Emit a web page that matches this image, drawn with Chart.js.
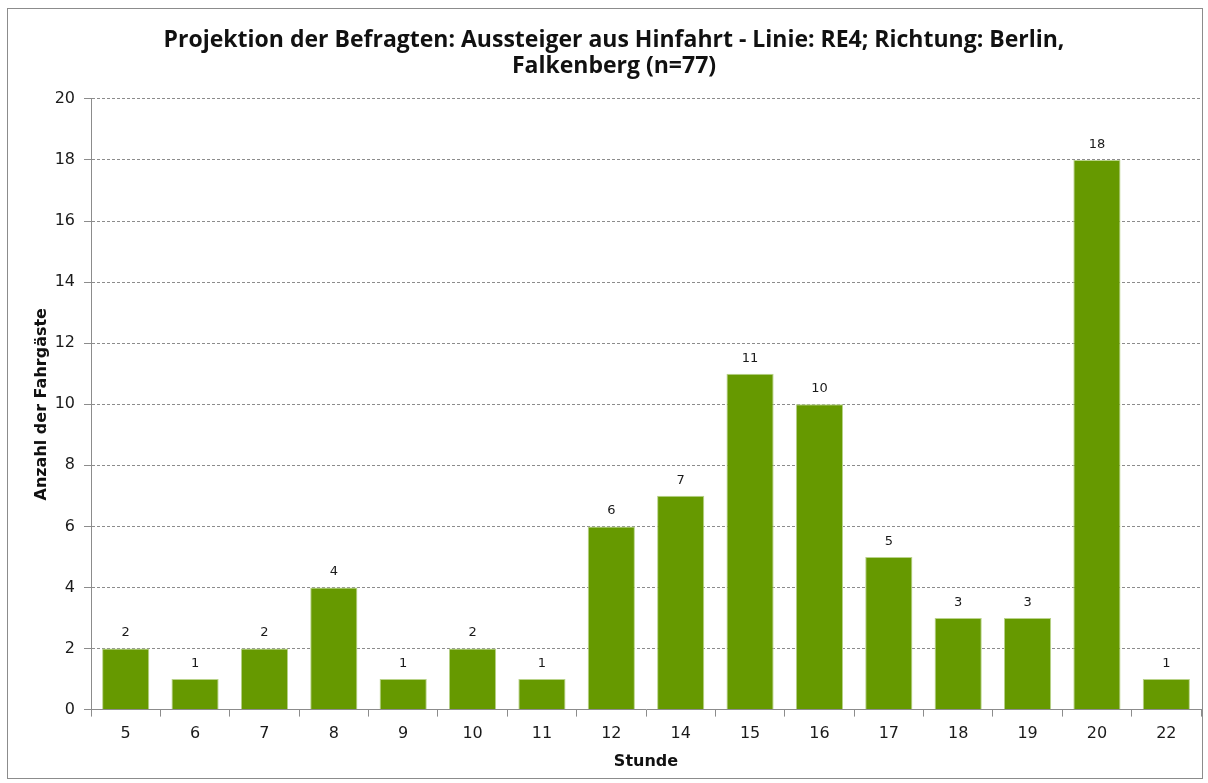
<!DOCTYPE html>
<html>
<head>
<meta charset="utf-8">
<script src="https://cdn.jsdelivr.net/npm/chart.js@4/dist/chart.umd.min.js"></script>
<style>
html,body{margin:0;padding:0;background:#fff;}
#wrap{position:absolute;left:0;top:0;width:1208px;height:783px;}
#frame{position:absolute;left:7px;top:8px;width:1196px;height:771px;border:1px solid #8c8c8c;box-sizing:border-box;pointer-events:none;}
</style>
</head>
<body>
<div id="wrap"><canvas id="c" width="1208" height="783"></canvas></div>
<div id="frame"></div>
<script>
const categories = ['5','6','7','8','9','10','11','12','14','15','16','17','18','19','20','22'];
const values = [2,1,2,4,1,2,1,6,7,11,10,5,3,3,18,1];
const yTicks = [0,2,4,6,8,10,12,14,16,18,20];
const titleLines = ['Projektion der Befragten: Aussteiger aus Hinfahrt - Linie: RE4; Richtung: Berlin,', 'Falkenberg (n=77)'];
const yTitle = 'Anzahl der Fahrgäste';
const xTitle = 'Stunde';

const valueLabels = {
  id: 'valueLabels',
  afterDatasetsDraw(chart) {
    const ctx = chart.ctx;
    const meta = chart.getDatasetMeta(0);
    ctx.save();
    ctx.font = '13px "DejaVu Sans"';
    ctx.fillStyle = '#1a1a1a';
    ctx.textAlign = 'center';
    ctx.textBaseline = 'bottom';
    meta.data.forEach((bar, i) => {
      ctx.fillText(String(chart.data.datasets[0].data[i]), bar.x, bar.y - 9);
    });
    ctx.restore();
  }
};

new Chart(document.getElementById('c'), {
  type: 'bar',
  data: {
    labels: categories,
    datasets: [{
      data: values,
      backgroundColor: '#669900',
      borderColor: '#b9d38a',
      borderWidth: 1,
      barPercentage: 0.68,
      categoryPercentage: 1.0
    }]
  },
  options: {
    responsive: false,
    animation: false,
    layout: { padding: { left: 27, right: 7, top: 12, bottom: 8 } },
    plugins: {
      legend: { display: false },
      tooltip: { enabled: false },
      title: {
        display: true,
        text: titleLines,
        font: { family: '"Open Sans"', size: 23, weight: 'bold', lineHeight: 1.15 },
        color: '#111',
        padding: { top: 15, bottom: 19 }
      }
    },
    scales: {
      x: {
        grid: { display: true, drawOnChartArea: false, drawTicks: true, offset: true, tickLength: 7, color: '#8c8c8c' },
        border: { display: true, color: '#8c8c8c', width: 1 },
        ticks: { font: { family: '"DejaVu Sans"', size: 16 }, color: '#1a1a1a', padding: 8 },
        title: { display: true, text: xTitle, font: { family: '"DejaVu Sans"', size: 16, weight: 'bold' }, color: '#111', padding: { top: 0, bottom: 4 } }
      },
      y: {
        min: 0, max: 20,
        afterBuildTicks(scale) { scale.ticks = yTicks.map(v => ({ value: v })); },
        afterFit(scale) { scale.width = 64; },
        grid: { color: '#8c8c8c', tickLength: 7, tickColor: '#8c8c8c' },
        border: { display: true, color: '#8c8c8c', width: 1, dash: [3, 2] },
        ticks: { font: { family: '"DejaVu Sans"', size: 16 }, color: '#1a1a1a', padding: 9 },
        title: { display: true, text: yTitle, font: { family: '"DejaVu Sans"', size: 16, weight: 'bold' }, color: '#111', padding: { top: 5, bottom: 0 } }
      }
    }
  },
  plugins: [valueLabels]
});
</script>
</body>
</html>
